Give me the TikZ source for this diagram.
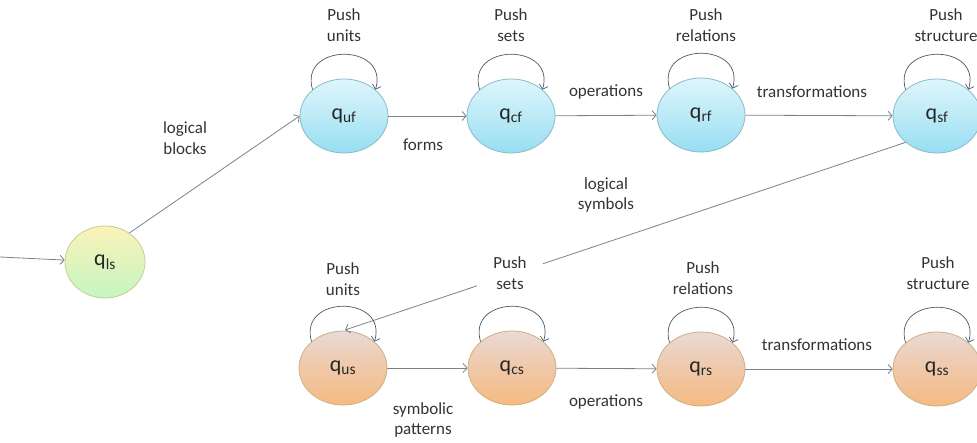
\documentclass[tikz,border=0pt]{standalone}
\usepackage{fontspec}
\setmainfont{Carlito}
\usetikzlibrary{positioning,shapes.geometric,arrows.meta}
\definecolor{blueTop}{RGB}{222,246,252}
\definecolor{blueMid}{RGB}{188,234,246}
\definecolor{blueBot}{RGB}{150,222,242}
\definecolor{blueLine}{RGB}{140,185,200}
\definecolor{orTop}{RGB}{232,218,214}
\definecolor{orMid}{RGB}{240,200,168}
\definecolor{orBot}{RGB}{246,186,130}
\definecolor{orLine}{RGB}{205,175,130}
\definecolor{lsTop}{RGB}{252,242,185}
\definecolor{lsBot}{RGB}{196,246,192}
\definecolor{lsLine}{RGB}{200,205,150}
\definecolor{edgeGray}{RGB}{120,130,140}
\definecolor{loopGray}{RGB}{70,88,108}

\begin{document}
\begin{tikzpicture}[x=1pt,y=-1pt]
\tikzset{Q/.style={ellipse,minimum width=88pt,minimum height=74pt,inner sep=0pt,line width=0.8pt,
    font=\fontsize{22}{26}\selectfont,text=black!85},
  QF/.style={Q,draw=blueLine,top color=blueTop,bottom color=blueBot,middle color=blueMid},
  QS/.style={Q,draw=orLine,top color=orTop,bottom color=orBot,middle color=orMid},
  QL/.style={Q,minimum width=80pt,minimum height=72pt,draw=lsLine,top color=lsTop,bottom color=lsBot},
  tr/.style={draw=edgeGray,line width=0.8pt,-{Straight Barb[length=4pt,width=9pt]}},
  lp/.style={draw=loopGray,line width=0.7pt,-{Straight Barb[length=4pt,width=9pt]}},
  lb/.style={align=center,font=\fontsize{17}{20.5}\selectfont,text=black!80,inner sep=1pt}}

  \useasboundingbox (0,0) rectangle (977,443);

  \node[QL] (qls) at (105,262) {q\textsubscript{ls}};
  \node[QF] (quf) at (344,116) {q\textsubscript{uf}};
  \node[QF] (qcf) at (511,116) {q\textsubscript{cf}};
  \node[QF] (qrf) at (701,115) {q\textsubscript{rf}};
  \node[QF] (qsf) at (937,116) {q\textsubscript{sf}};
  \node[QS] (qus) at (343,368) {q\textsubscript{us}};
  \node[QS] (qcs) at (512,368) {q\textsubscript{cs}};
  \node[QS] (qrs) at (701,369) {q\textsubscript{rs}};
  \node[QS] (qss) at (937,369) {q\textsubscript{ss}};
  \coordinate (start) at (0,257);
  \coordinate (usend) at (345,330);

  \draw[tr] (start) -- (qls);
  \draw[tr] (qls.50) -- (quf.west);
  \draw[tr] (quf) -- (qcf);
  \draw[tr] (qcf) -- (qrf);
  \draw[tr] (qrf) -- (qsf);
  \draw[tr] (qsf.220) -- (usend);
  \draw[tr] (qus) -- (qcs);
  \draw[tr] (qcs) -- (qrs);
  \draw[tr] (qrs) -- (qss);

  \foreach \q in {quf,qcf,qrf,qsf,qus,qcs,qrs,qss}
    \draw[lp] (\q.140) .. controls +(-14,-47) and +(14,-47) .. (\q.40);

  \node[lb] (lblk) at (185,138) {logical\\blocks};
  \node[lb] (lfrm) at (423,145) {forms};
  \node[lb] (lopf) at (606,92) {operations};
  \node[lb] (ltrf) at (812,92) {transformations};
  \node[lb] (puf) at (344,25) {Push\\units};
  \node[lb] (pcf) at (511,25) {Push\\sets};
  \node[lb] (prf) at (706,25) {Push\\relations};
  \node[lb] (psf) at (946,25) {Push\\structure};
  \node[lb] (lsym) at (606,195) {logical\\symbols};
  \node[lb] (pus) at (343,279) {Push\\units};
  \node[lb,fill=white,inner xsep=16pt,inner ysep=2pt] (pcs) at (510,273) {Push\\sets};
  \node[lb] (prs) at (703,278) {Push\\relations};
  \node[lb] (pss) at (938,273) {Push\\structure};
  \node[lb] (lsym2) at (423,420) {symbolic\\patterns};
  \node[lb] (lops) at (606,402) {operations};
  \node[lb] (ltrs) at (817,345) {transformations};
\end{tikzpicture}
\end{document}
